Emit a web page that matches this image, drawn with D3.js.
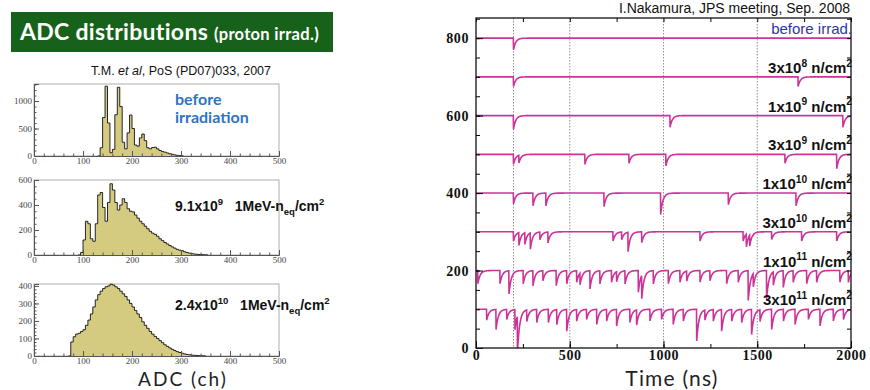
<!DOCTYPE html>
<html>
<head>
<meta charset="utf-8">
<script src="https://cdn.jsdelivr.net/npm/d3@7"></script>
<style>
  body { margin: 0; background: #fff; }
</style>
</head>
<body>
<svg id="chart" width="870" height="390"></svg>
<script>
// ---------- left: ADC histograms, counts per 5 channels ----------
const binWidth = 5
const beforeStart = 130
const beforeCounts = [0, 150, 700, 1270, 600, 60, 120, 750, 1250, 900, 250, 130, 420, 745, 500, 200,
  180, 330, 400, 280, 150, 130, 155, 160, 130, 100, 80, 70, 55, 40, 30, 20, 12, 6, 2, 0]
const midStart = 90
const midCounts = [0, 20, 120, 270, 250, 130, 110, 250, 480, 500, 380, 270, 420, 570, 520, 420, 360,
  400, 450, 420, 370, 350, 345, 320, 295, 270, 250, 230, 210, 190, 175, 165, 150, 130, 115, 100,
  88, 76, 65, 55, 45, 38, 35, 26, 20, 15, 11, 8, 6, 4, 3, 2, 1, 0]
const highStart = 70
const highCounts = [0, 80, 110, 125, 130, 140, 150, 175, 205, 240, 280, 320, 350, 370, 385, 395, 400,
  410, 405, 395, 385, 370, 355, 340, 320, 300, 280, 260, 240, 220, 195, 175, 158, 140, 125, 112,
  100, 88, 76, 64, 55, 46, 38, 31, 25, 20, 16, 12, 9, 7, 5, 4, 3, 2, 1, 1, 0]
const adcTicks = [0, 100, 200, 300, 400, 500]
const beforeYTicks = [0, 500, 1000]
const midYTicks = [0, 200, 400, 600]
const highYTicks = [0, 100, 200, 300, 400]
const histNotes = ['9.1x10^{9}\u00a0\u00a0 1MeV-n_{eq}/cm^{2}', '2.4x10^{10}\u00a0\u00a0 1MeV-n_{eq}/cm^{2}']

// ---------- right: waveforms, dips as [time ns, depth] ----------
const traceBase = [800, 700, 600, 500, 400, 300, 200, 100]
const traceLabels = ['before irrad.', '3x10^{8} n/cm^{2}', '1x10^{9} n/cm^{2}', '3x10^{9} n/cm^{2}',
  '1x10^{10} n/cm^{2}', '3x10^{10} n/cm^{2}', '1x10^{11} n/cm^{2}', '3x10^{11} n/cm^{2}']
const dips800 = [[200, 30]]
const dips700 = [[200, 25], [1718, 25]]
const dips600 = [[200, 35], [1035, 30], [1957, 30]]
const dips500 = [[200, 26], [229, 20], [581, 26], [816, 23], [1013, 30], [1648, 23], [1924, 37]]
const dips400 = [[200, 28], [304, 33], [373, 33], [683, 35], [985, 55], [1346, 30], [1707, 33]]
const dips300 = [[200, 24], [229, 33], [261, 30], [290, 42], [341, 20], [384, 28], [731, 24], [777, 20],
  [811, 50], [884, 28], [1195, 24], [1425, 24], [1442, 33], [1460, 28], [1577, 20], [1737, 24], [1924, 24]]
const dips200 = [[10, 34], [128, 34], [176, 60], [252, 34], [304, 39], [357, 26], [428, 39], [484, 34],
  [537, 30], [555, 30], [608, 47], [661, 34], [723, 30], [750, 26], [795, 34], [866, 56], [884, 60],
  [946, 34], [1026, 34], [1088, 30], [1124, 26], [1195, 30], [1248, 26], [1337, 34], [1399, 30],
  [1452, 77], [1479, 34], [1550, 73], [1586, 34], [1639, 43], [1692, 30], [1764, 34], [1817, 30],
  [1941, 30], [1986, 30]]
const dips100 = [[57, 28], [107, 52], [164, 26], [208, 52], [221, 95], [271, 30], [324, 34], [386, 34],
  [431, 39], [484, 56], [537, 30], [590, 26], [644, 39], [697, 30], [750, 43], [821, 34], [857, 39],
  [928, 30], [990, 26], [1052, 39], [1106, 30], [1177, 82], [1221, 26], [1266, 30], [1310, 56],
  [1364, 30], [1417, 34], [1470, 65], [1515, 30], [1577, 52], [1640, 30], [1702, 39], [1773, 26],
  [1835, 43], [1906, 30], [1960, 26]]
const traceDips = [dips800, dips700, dips600, dips500, dips400, dips300, dips200, dips100]
const timeTicks = [0, 500, 1000, 1500, 2000]
const ampTicks = [0, 200, 400, 600, 800]
const gridTimes = [200, 500, 1000, 1500]

const svg = d3.select('#chart')
svg.append('rect').attr('width', 870).attr('height', 390).attr('fill', '#fff')

// superscript / subscript helper: ^{..} and _{..}
function rich(text, str, size) {
  const parts = str.split(/(\^\{[^}]*\}|_\{[^}]*\})/).filter(s => s)
  let shift = 0
  parts.forEach(p => {
    let kind = 0, s = p
    if (p.startsWith('^{')) { kind = -1; s = p.slice(2, -1) }
    else if (p.startsWith('_{')) { kind = 1; s = p.slice(2, -1) }
    const target = kind === 0 ? 0 : kind < 0 ? -size * 0.42 : size * 0.28
    text.append('tspan')
      .attr('dy', target - shift)
      .attr('font-size', kind ? size * 0.68 : size)
      .text(s)
    shift = target
  })
}

// ---------- title bar ----------
svg.append('rect').attr('x', 11).attr('y', 12).attr('width', 322).attr('height', 40).attr('fill', '#17621a')
const title = svg.append('text').attr('x', 20).attr('y', 40)
  .attr('fill', '#fff').attr('font-family', 'Lato, sans-serif').attr('font-weight', 'bold')
title.append('tspan').attr('font-size', 23).attr('letter-spacing', 0.3).text('ADC distributions ')
title.append('tspan').attr('font-size', 16.5).attr('letter-spacing', 0.3).text('(proton irrad.)')

const ref = svg.append('text').attr('x', 181).attr('y', 75).attr('text-anchor', 'middle')
  .attr('font-family', 'Liberation Sans, Arial, sans-serif').attr('font-size', 12.5).attr('fill', '#111')
ref.append('tspan').text('T.M. ')
ref.append('tspan').attr('font-style', 'italic').text('et al')
ref.append('tspan').text(', PoS (PD07)033, 2007')

// ---------- histograms ----------
const xAdc = d3.scaleLinear().domain([0, 500]).range([34, 279])

function drawHist(counts, start, yMax, yTicks, yMinor, top, bottom) {
  const y = d3.scaleLinear().domain([0, yMax]).range([bottom, top])
  const pts = counts.map((c, i) => [start + i * binWidth, c])
  const g = svg.append('g')

  g.append('rect').attr('x', 34).attr('y', top).attr('width', 245).attr('height', bottom - top)
    .attr('fill', '#fff').attr('stroke', '#999').attr('stroke-width', 0.8)

  g.append('path').datum(pts)
    .attr('d', d3.area().curve(d3.curveStepAfter).x(d => xAdc(d[0])).y0(y(0)).y1(d => y(d[1])))
    .attr('fill', '#d5cb80')
  g.append('path').datum(pts)
    .attr('d', d3.line().curve(d3.curveStepAfter).x(d => xAdc(d[0])).y(d => y(d[1])))
    .attr('fill', 'none').attr('stroke', '#111').attr('stroke-width', 0.9)

  const font = sel => sel.selectAll('text').attr('font-family', 'Liberation Serif, serif')
    .attr('font-size', 9).attr('fill', '#444')

  g.append('g').attr('transform', `translate(34,0)`)
    .call(d3.axisLeft(y).tickValues(d3.range(0, yMax, yMinor)).tickSize(-2.5).tickFormat(''))
    .call(a => a.select('.domain').remove())
    .call(a => a.selectAll('line').attr('stroke', '#555'))
  g.append('g').attr('transform', `translate(34,0)`)
    .call(d3.axisLeft(y).tickValues(yTicks).tickSize(-5).tickPadding(2).tickFormat(d3.format('d')))
    .call(a => a.select('.domain').attr('stroke', '#555'))
    .call(a => a.selectAll('line').attr('stroke', '#555'))
    .call(font)

  g.append('g').attr('transform', `translate(0,${bottom})`)
    .call(d3.axisBottom(xAdc).tickValues(d3.range(0, 500, 20)).tickSize(-2.5).tickFormat(''))
    .call(a => a.select('.domain').remove())
    .call(a => a.selectAll('line').attr('stroke', '#555'))
  g.append('g').attr('transform', `translate(0,${bottom})`)
    .call(d3.axisBottom(xAdc).tickValues(adcTicks).tickSize(-5).tickPadding(2).tickFormat(d3.format('d')))
    .call(a => a.select('.domain').attr('stroke', '#555'))
    .call(a => a.selectAll('line').attr('stroke', '#555'))
    .call(font)
  return g
}

drawHist(beforeCounts, beforeStart, 1310, beforeYTicks, 100, 84, 156)
drawHist(midCounts, midStart, 600, midYTicks, 50, 180, 255)
drawHist(highCounts, highStart, 411, highYTicks, 20, 284, 356)

const blue = svg.append('text').attr('font-family', 'Lato, sans-serif').attr('font-weight', 'bold')
  .attr('font-size', 16).attr('fill', '#2e74c5')
blue.append('tspan').attr('x', 175).attr('y', 105).text('before')
blue.append('tspan').attr('x', 175).attr('y', 123).text('irradiation')

;[211, 310].forEach((yy, i) => {
  const t = svg.append('text').attr('x', 175).attr('y', yy)
    .attr('font-family', 'Liberation Sans, Arial, sans-serif').attr('font-weight', 'bold').attr('fill', '#111')
  rich(t, histNotes[i], 14)
})

svg.append('text').attr('x', 183).attr('y', 386).attr('text-anchor', 'middle')
  .attr('font-family', 'Lato, sans-serif').attr('font-size', 19).attr('letter-spacing', 2)
  .attr('fill', '#222').text('ADC (ch)')

// ---------- waveforms ----------
const xT = d3.scaleLinear().domain([0, 2000]).range([476, 851])
const yA = d3.scaleLinear().domain([0, 852]).range([348, 18])
const tau = 12

svg.append('clipPath').attr('id', 'plotClip').append('rect')
  .attr('x', 476).attr('y', 18).attr('width', 375).attr('height', 330)

svg.append('g').selectAll('line').data(gridTimes).join('line')
  .attr('x1', d => xT(d)).attr('x2', d => xT(d)).attr('y1', 18).attr('y2', 348)
  .attr('stroke', '#777').attr('stroke-width', 0.8).attr('stroke-dasharray', '1.5,1.5')

const times = d3.range(0, 2001, 1)
const traces = traceBase.map((base, i) => times.map(t => {
  let v = base
  traceDips[i].forEach(([t0, depth]) => { if (t >= t0) v -= depth * Math.exp(-(t - t0) / tau) })
  return [t, v]
}))

svg.append('g').attr('clip-path', 'url(#plotClip)')
  .selectAll('path').data(traces).join('path')
  .attr('d', d3.line().x(d => xT(d[0])).y(d => yA(d[1])))
  .attr('fill', 'none').attr('stroke', '#cc3399').attr('stroke-width', 1.6)

const serifBold = sel => sel.selectAll('text').attr('font-family', 'Liberation Serif, serif')
  .attr('font-weight', 'bold').attr('font-size', 14).attr('letter-spacing', 0.6).attr('fill', '#111')

svg.append('g').attr('transform', 'translate(476,0)')
  .call(d3.axisLeft(yA).tickValues(d3.range(0, 851, 50)).tickSize(-4).tickFormat(''))
  .call(a => a.select('.domain').remove())
svg.append('g').attr('transform', 'translate(476,0)')
  .call(d3.axisLeft(yA).tickValues(ampTicks).tickSize(-7).tickPadding(7).tickFormat(d3.format('d')))
  .call(a => a.select('.domain').remove())
  .call(serifBold)
svg.append('g').attr('transform', 'translate(851,0)')
  .call(d3.axisRight(yA).tickValues(d3.range(0, 851, 50)).tickSize(-4).tickFormat(''))
  .call(a => a.select('.domain').remove())
svg.append('g').attr('transform', 'translate(0,348)')
  .call(d3.axisBottom(xT).tickValues(d3.range(0, 2001, 250)).tickSize(-4).tickFormat(''))
  .call(a => a.select('.domain').remove())
svg.append('g').attr('transform', 'translate(0,348)')
  .call(d3.axisBottom(xT).tickValues(timeTicks).tickSize(-7).tickPadding(2).tickFormat(d3.format('d')))
  .call(a => a.select('.domain').remove())
  .call(serifBold)
svg.append('g').attr('transform', 'translate(0,18)')
  .call(d3.axisTop(xT).tickValues(d3.range(0, 2001, 250)).tickSize(-4).tickFormat(''))
  .call(a => a.select('.domain').remove())

svg.append('rect').attr('x', 476).attr('y', 18).attr('width', 375).attr('height', 330)
  .attr('fill', 'none').attr('stroke', '#111').attr('stroke-width', 1.3)

traceLabels.forEach((lab, i) => {
  const t = svg.append('text').attr('x', 852).attr('y', yA(traceBase[i]) - 4).attr('text-anchor', 'end')
    .attr('font-family', 'Liberation Sans, Arial, sans-serif')
    .attr('font-weight', i === 0 ? 'normal' : 'bold')
    .attr('fill', i === 0 ? '#2b37a8' : '#111')
  rich(t, lab, 15)
})

svg.append('text').attr('x', 850).attr('y', 13).attr('text-anchor', 'end')
  .attr('font-family', 'Liberation Sans, Arial, sans-serif').attr('font-size', 14).attr('fill', '#111')
  .text('I.Nakamura, JPS meeting, Sep. 2008')

svg.append('text').attr('x', 672).attr('y', 386).attr('text-anchor', 'middle')
  .attr('font-family', 'Lato, sans-serif').attr('font-size', 21).attr('letter-spacing', 1.2)
  .attr('fill', '#222').text('Time (ns)')
</script>
</body>
</html>
